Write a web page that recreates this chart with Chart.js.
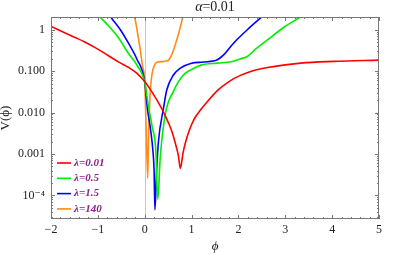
<!DOCTYPE html>
<html>
<head>
<meta charset="utf-8">
<script src="https://cdn.jsdelivr.net/npm/chart.js"></script>
<style>
  html, body { margin: 0; padding: 0; background: #fff; }
</style>
</head>
<body>
<canvas id="chart" width="399" height="254"></canvas>
<script>
// values (phi, V) for each lambda
const phiRed = [-2, -1.5, -1.3, -1, -0.55, -0.35, -0.17, 0, 0.15, 0.36, 0.5, 0.58, 0.68, 0.72, 0.76, 0.82, 0.87, 0.95, 1.05, 1.19, 1.33, 1.55, 1.76, 1.9, 2.26, 2.62, 3.33, 4.04, 5];
const vRed = [1.2, 0.66, 0.52, 0.34, 0.165, 0.124, 0.09, 0.056, 0.032, 0.0127, 0.0059, 0.0035, 0.0014, 0.00089, 0.00045, 0.0011, 0.0019, 0.0037, 0.0068, 0.0115, 0.018, 0.034, 0.052, 0.066, 0.098, 0.122, 0.156, 0.172, 0.185];

const phiGreen = [-1.05, -0.95, -0.73, -0.556, -0.35, -0.17, 0, 0.08, 0.16, 0.235, 0.28, 0.33, 0.436, 0.62, 0.82, 1.0, 1.2, 1.55, 1.85, 2.05, 2.19, 2.35, 2.62, 2.97, 3.31, 3.45];
const vGreen = [2.6, 2.0, 1.1, 0.63, 0.27, 0.142, 0.054, 0.014, 0.0045, 0.0013, 0.00008, 0.00078, 0.0088, 0.034, 0.08, 0.11, 0.14, 0.156, 0.168, 0.2, 0.226, 0.33, 0.57, 1.15, 2.0, 2.6];

const phiBlue = [-0.78, -0.72, -0.52, -0.35, -0.17, 0, 0.06, 0.126, 0.175, 0.2, 0.218, 0.25, 0.293, 0.4, 0.47, 0.613, 0.76, 1.0, 1.26, 1.55, 1.69, 1.9, 2.19, 2.51, 2.6];
const vBlue = [2.6, 2.0, 1.0, 0.48, 0.2, 0.055, 0.012, 0.0038, 0.0012, 0.0004, 0.000045, 0.00032, 0.002, 0.0126, 0.035, 0.081, 0.118, 0.156, 0.166, 0.188, 0.25, 0.48, 1.0, 2.1, 2.6];

const phiOrange = [-0.27, -0.21, -0.15, -0.1, -0.05, 0, 0.03, 0.064, 0.08, 0.115, 0.16, 0.21, 0.26, 0.36, 0.46, 0.52, 0.577, 0.65, 0.756, 0.806, 0.84];
const vOrange = [2.6, 1.9, 0.8, 0.36, 0.14, 0.056, 0.0045, 0.00026, 0.002, 0.027, 0.09, 0.14, 0.165, 0.17, 0.175, 0.19, 0.25, 0.43, 1.1, 1.92, 2.6];

const seriesLabels = ['\u03bb=0.01', '\u03bb=0.5', '\u03bb=1.5', '\u03bb=140'];
const seriesColors = ['#ff0000', '#00ee00', '#0000ff', '#ff8c1a'];
const xTicks = [-2, -1, 0, 1, 2, 3, 4, 5];
const yTickLabels = { '0': '1', '-1': '0.100', '-2': '0.010', '-3': '0.001', '-4': '10\u207b\u2074' };

const serif = "'Liberation Serif', 'DejaVu Serif', serif";

function pairs(xs, ys) {
    return xs.map((x, i) => ({ x: x, y: ys[i] }));
}

// grey line at phi = 0, frame with inward ticks, title, legend
const decorations = {
    id: 'decorations',
    beforeDatasetsDraw(chart) {
        const { ctx, chartArea: a, scales: { x } } = chart;
        const px = Math.round(x.getPixelForValue(0)) + 0.5;
        ctx.save();
        ctx.strokeStyle = '#c8c8c8';
        ctx.lineWidth = 1;
        ctx.beginPath();
        ctx.moveTo(px, a.top);
        ctx.lineTo(px, a.bottom);
        ctx.stroke();
        ctx.restore();
    },
    afterDatasetsDraw(chart) {
        const { ctx, chartArea: a, scales: { x, y } } = chart;
        ctx.save();
        ctx.strokeStyle = '#777';
        ctx.lineWidth = 1;
        ctx.strokeRect(a.left + 0.5, a.top + 0.5, a.right - a.left - 1, a.bottom - a.top - 1);

        ctx.beginPath();
        for (let i = 0; i <= 35; i++) {
            const v = xTicks[0] + i * 0.2;
            const px = Math.round(x.getPixelForValue(v)) + 0.5;
            const len = i % 5 === 0 ? 4 : 2;
            ctx.moveTo(px, a.bottom);
            ctx.lineTo(px, a.bottom - len);
            ctx.moveTo(px, a.top);
            ctx.lineTo(px, a.top + len);
        }
        for (let e = -5; e <= 0; e++) {
            for (let m = 1; m <= 9; m++) {
                const v = m * Math.pow(10, e);
                if (v < y.min || v > y.max) continue;
                const py = Math.round(y.getPixelForValue(v)) + 0.5;
                const len = m === 1 ? 4 : 2;
                ctx.moveTo(a.left, py);
                ctx.lineTo(a.left + len, py);
                ctx.moveTo(a.right, py);
                ctx.lineTo(a.right - len, py);
            }
        }
        ctx.stroke();

        // title: alpha=0.01
        const cx = (a.left + a.right) / 2;
        ctx.fillStyle = '#222';
        ctx.textBaseline = 'middle';
        ctx.font = 'italic 14px ' + serif;
        const t1 = '\u03b1';
        const w1 = ctx.measureText(t1).width;
        ctx.font = '14px ' + serif;
        const t2 = '=0.01';
        const w2 = ctx.measureText(t2).width;
        const start = cx - (w1 + w2) / 2;
        ctx.font = 'italic 14px ' + serif;
        ctx.textAlign = 'left';
        ctx.fillText(t1, start, 7);
        ctx.font = '14px ' + serif;
        ctx.fillText(t2, start + w1, 7);

        // legend
        ctx.font = 'bold italic 11px ' + serif;
        ctx.lineWidth = 1.6;
        chart.data.datasets.forEach((ds, i) => {
            const ly = a.bottom - 56 + i * 15.3;
            ctx.strokeStyle = ds.borderColor;
            ctx.beginPath();
            ctx.moveTo(a.left + 6, ly);
            ctx.lineTo(a.left + 20, ly);
            ctx.stroke();
            ctx.fillStyle = '#8a1e8a';
            ctx.fillText(ds.label, a.left + 23, ly);
        });
        ctx.restore();
    }
};

new Chart(document.getElementById('chart').getContext('2d'), {
    type: 'line',
    data: {
        datasets: [
            { label: seriesLabels[0], data: pairs(phiRed, vRed), borderColor: seriesColors[0] },
            { label: seriesLabels[1], data: pairs(phiGreen, vGreen), borderColor: seriesColors[1] },
            { label: seriesLabels[2], data: pairs(phiBlue, vBlue), borderColor: seriesColors[2] },
            { label: seriesLabels[3], data: pairs(phiOrange, vOrange), borderColor: seriesColors[3] }
        ]
    },
    options: {
        responsive: false,
        animation: false,
        events: [],
        layout: { padding: { left: 0, top: 17, right: 20, bottom: 0 } },
        elements: {
            point: { radius: 0 },
            line: { borderWidth: 1.6, cubicInterpolationMode: 'monotone', fill: false }
        },
        plugins: {
            legend: { display: false },
            tooltip: { enabled: false }
        },
        scales: {
            x: {
                type: 'linear',
                min: -2,
                max: 5,
                afterBuildTicks: (scale) => { scale.ticks = xTicks.map(v => ({ value: v })); },
                afterFit: (scale) => { scale.height = 35; },
                ticks: {
                    color: '#222',
                    padding: 4,
                    font: { family: serif, size: 12 },
                    callback: (v) => v < 0 ? '\u2212' + Math.abs(v) : String(v)
                },
                grid: { display: false, drawTicks: false },
                border: { display: false },
                title: {
                    display: true,
                    text: '\u03d5',
                    color: '#222',
                    padding: 0,
                    font: { family: serif, size: 13, style: 'italic' }
                }
            },
            y: {
                type: 'logarithmic',
                min: 2.7e-5,
                max: 2.03,
                afterFit: (scale) => { scale.width = 51; },
                ticks: {
                    autoSkip: false,
                    color: '#222',
                    padding: 6,
                    font: { family: serif, size: 12 },
                    callback: (v) => {
                        const e = Math.log10(v);
                        if (Math.abs(e - Math.round(e)) > 1e-6) return '';
                        return yTickLabels[String(Math.round(e))] || '';
                    }
                },
                grid: { display: false, drawTicks: false },
                border: { display: false },
                title: {
                    display: true,
                    text: 'V(\u03d5)',
                    color: '#222',
                    padding: 0,
                    font: { family: serif, size: 13, lineHeight: 0.8 }
                }
            }
        }
    },
    plugins: [decorations]
});
</script>
</body>
</html>
